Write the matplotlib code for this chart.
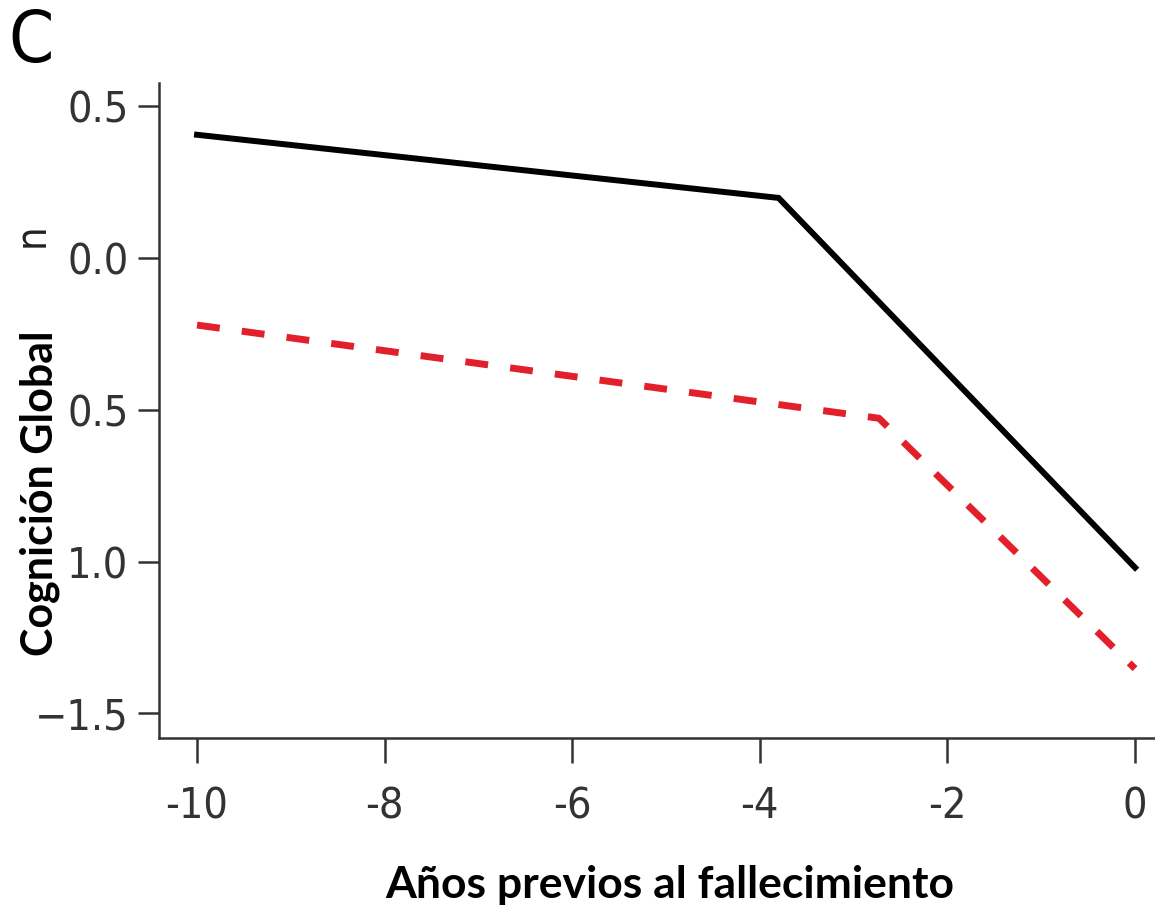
import matplotlib
matplotlib.use('Agg')
import matplotlib.pyplot as plt

# datos (años previos al fallecimiento vs cognicion global)
years_solid = [-10, -3.8, 0]
cog_solid = [0.406, 0.198, -1.02]
years_dashed = [-10, -2.73, 0]
cog_dashed = [-0.221, -0.528, -1.353]

xticks = [-10, -8, -6, -4, -2, 0]
xtick_labels = ['-10', '-8', '-6', '-4', '-2', '0']
yticks = [0.5, 0.0, -0.5, -1.0, -1.5]
ytick_labels = ['0.5', '0.0', '0.5', '1.0', '\u22121.5']

tick_font = dict(family='DejaVu Sans', stretch='condensed', fontsize=31, color='#333333')
label_font = ['Lato', 'DejaVu Sans']

fig = plt.figure(figsize=(11.55, 9.1), dpi=100)
ax = fig.add_axes([0.1377, 0.189, 0.8623, 0.7198])

ax.plot(years_solid, cog_solid, color='black', linewidth=4.3, solid_joinstyle='miter')
ax.plot(years_dashed, cog_dashed, color='#e2202c', linewidth=5, dashes=(3.3, 3.2))

ax.set_xlim(-10.405, 0.213)
ax.set_ylim(-1.5815, 0.5766)

ax.spines['top'].set_visible(False)
ax.spines['right'].set_visible(False)
for s in ['left', 'bottom']:
    ax.spines[s].set_color('#333333')
    ax.spines[s].set_linewidth(1.8)

ax.set_xticks(xticks)
ax.set_xticklabels(xtick_labels, **tick_font)
ax.set_yticks(yticks)
ax.set_yticklabels(ytick_labels, **tick_font)
ax.tick_params(axis='x', length=18, width=1.8, color='#333333', pad=16)
ax.tick_params(axis='y', length=15, width=1.8, color='#333333', pad=7)

fig.text(0.58, 0.027, 'Años previos al fallecimiento', family=label_font,
         fontweight='bold', fontsize=32, ha='center', va='center')
fig.text(0.034, 0.458, 'Cognición Global', family=label_font,
         fontweight='bold', fontsize=31, rotation=90, ha='center', va='center')
fig.text(0.027, 0.953, 'C', family='DejaVu Sans', stretch='condensed',
         fontsize=52, ha='center', va='center')
fig.text(0.027, 0.742, 'n', family='DejaVu Sans', stretch='condensed', fontsize=30,
         rotation=90, ha='center', va='center', color='#222222')

fig.savefig('out.png', dpi=100)
